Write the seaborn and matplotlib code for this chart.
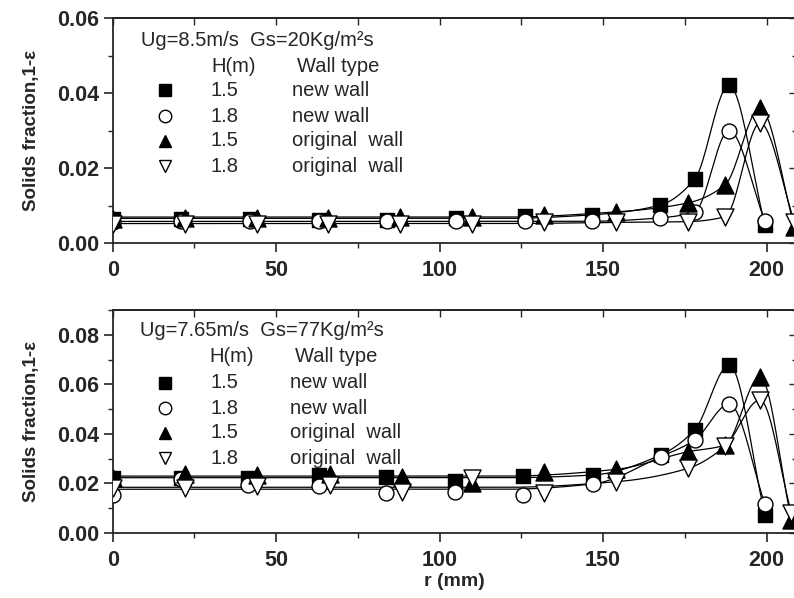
import numpy as np
import pandas as pd
import matplotlib
matplotlib.use("Agg")
import matplotlib.pyplot as plt
from matplotlib.ticker import MultipleLocator, FormatStrFormatter
import seaborn as sns

# ---------------- data ----------------
# top panel: Ug=8.5 m/s, Gs=20 kg/m2s
top_r_new = [0, 21, 42, 63, 84, 105, 126, 146.5, 167.4, 178, 188.5, 199.5]
top_sq = [0.0065, 0.0065, 0.0065, 0.0062, 0.0062, 0.0068, 0.0072, 0.0075, 0.0101, 0.0170, 0.0421, 0.0048]
top_ci = [0.0055, 0.0058, 0.0058, 0.0058, 0.0058, 0.0058, 0.0058, 0.0058, 0.0067, 0.0083, 0.0300, 0.0058]
top_r_orig = [0, 22, 44, 66, 88, 110, 132, 154, 176, 187.3, 198, 208.5]
top_tu = [0.0065, 0.0068, 0.0068, 0.0068, 0.0070, 0.0070, 0.0075, 0.0083, 0.0107, 0.0155, 0.0360, 0.0044]
top_td = [0.0052, 0.0052, 0.0050, 0.0050, 0.0052, 0.0052, 0.0055, 0.0055, 0.0057, 0.0070, 0.0320, 0.0057]

# bottom panel: Ug=7.65 m/s, Gs=77 kg/m2s
bot_r_new = [0, 21, 41.5, 63, 83.7, 104.7, 125.6, 146.8, 167.6, 178, 188.6, 199.5]
bot_sq = [0.0222, 0.0220, 0.0220, 0.0234, 0.0225, 0.0211, 0.0230, 0.0234, 0.0315, 0.0416, 0.0678, 0.0073]
bot_ci = [0.0155, 0.0217, 0.0194, 0.0190, 0.0160, 0.0167, 0.0153, 0.0198, 0.0308, 0.0375, 0.0520, 0.0117]
bot_r_orig = [0, 22, 44, 66.5, 88.4, 110, 132, 154, 176, 187.3, 198, 207.6]
bot_tu = [0.0220, 0.0238, 0.0234, 0.0240, 0.0225, 0.0203, 0.0247, 0.0257, 0.0328, 0.0355, 0.0631, 0.0052]
bot_td = [0.0180, 0.0180, 0.0190, 0.0194, 0.0167, 0.0220, 0.0160, 0.0207, 0.0261, 0.0350, 0.0537, 0.0080]

series_names = ["1.5 new wall", "1.8 new wall", "1.5 original wall", "1.8 original wall"]
H_labels = ["1.5", "1.8", "1.5", "1.8"]
wall_labels = ["new wall", "new wall", "original  wall", "original  wall"]
panel_titles = ["Ug=8.5m/s  Gs=20Kg/m\u00b2s", "Ug=7.65m/s  Gs=77Kg/m\u00b2s"]

# ---------------- styling ----------------
sns.set_theme(style="ticks")
plt.rcParams["font.family"] = ["Liberation Sans", "DejaVu Sans"]
plt.rcParams["axes.linewidth"] = 1.3

W, H = 794, 598
fig = plt.figure(figsize=(W / 100, H / 100), dpi=100)


def fx(px):
    return px / W


def fy(py):
    return 1 - py / H


def pchip(x, y, xn):
    x = np.asarray(x, float)
    y = np.asarray(y, float)
    h = np.diff(x)
    d = np.diff(y) / h
    m = np.zeros_like(y)
    for k in range(1, len(x) - 1):
        if d[k - 1] * d[k] > 0:
            w1 = 2 * h[k] + h[k - 1]
            w2 = h[k] + 2 * h[k - 1]
            m[k] = (w1 + w2) / (w1 / d[k - 1] + w2 / d[k])
    m[-1] = d[-1]
    out = np.empty_like(xn)
    idx = np.clip(np.searchsorted(x, xn) - 1, 0, len(x) - 2)
    for i, (xi, k) in enumerate(zip(xn, idx)):
        t = (xi - x[k]) / h[k]
        h00 = 2 * t**3 - 3 * t**2 + 1
        h10 = t**3 - 2 * t**2 + t
        h01 = -2 * t**3 + 3 * t**2
        h11 = t**3 - t**2
        out[i] = h00 * y[k] + h10 * h[k] * m[k] + h01 * y[k + 1] + h11 * h[k] * m[k + 1]
    return out


def smooth_curve(r, v):
    r = np.asarray(r, float)
    v = np.asarray(v, float)
    base = v[r < 140].mean()
    kx = [0, 120] + list(r[r >= 145])
    ky = [base, base] + list(v[r >= 145])
    xn = np.linspace(0, r[-1], 400)
    return xn, pchip(kx, ky, xn)


markers = {"1.5 new wall": "s", "1.8 new wall": "o",
           "1.5 original wall": "^", "1.8 original wall": "v"}
faces = {"1.5 new wall": "black", "1.8 new wall": "white",
         "1.5 original wall": "black", "1.8 original wall": "white"}
msize = {"1.5 new wall": 95, "1.8 new wall": 115,
         "1.5 original wall": 150, "1.8 original wall": 150}

panels = [
    dict(rect=[fx(112.7), fy(243), fx(796) - fx(112.7), fy(18) - fy(243)],
         data=[(top_r_new, top_sq), (top_r_new, top_ci), (top_r_orig, top_tu), (top_r_orig, top_td)],
         ylim=(0, 0.06), major=0.02, minor=0.01,
         legend_y=[40, 66, 90, 116, 141, 166], xs=(141, 211, 297, 165, 211, 292)),
    dict(rect=[fx(112.7), fy(533), fx(796) - fx(112.7), fy(310) - fy(533)],
         data=[(bot_r_new, bot_sq), (bot_r_new, bot_ci), (bot_r_orig, bot_tu), (bot_r_orig, bot_td)],
         ylim=(0, 0.09), major=0.02, minor=0.01,
         legend_y=[331, 357, 383, 408, 433, 458], xs=(140, 209, 295, 165, 211, 290)),
]

for pi, p in enumerate(panels):
    ax = fig.add_axes(p["rect"])
    pts, crv = [], []
    for name, (r, v) in zip(series_names, p["data"]):
        pts.append(pd.DataFrame({"r": r, "v": v, "series": name}))
        xn, yn = smooth_curve(r, v)
        crv.append(pd.DataFrame({"r": xn, "v": yn, "series": name}))
    pts = pd.concat(pts, ignore_index=True)
    crv = pd.concat(crv, ignore_index=True)

    sns.lineplot(data=crv, x="r", y="v", units="series", estimator=None,
                 color="black", lw=0.9, ax=ax, legend=False, zorder=2)
    for name in series_names:
        sub = pts[pts["series"] == name]
        sns.scatterplot(data=sub, x="r", y="v", marker=markers[name], s=msize[name],
                        color=faces[name], edgecolor="black", linewidth=1.0,
                        ax=ax, legend=False, zorder=3)

    ax.set_xlim(0, 209)
    ax.set_ylim(*p["ylim"])
    ax.xaxis.set_major_locator(MultipleLocator(50))
    ax.xaxis.set_minor_locator(MultipleLocator(25))
    ax.yaxis.set_major_locator(MultipleLocator(p["major"]))
    ax.yaxis.set_minor_locator(MultipleLocator(p["minor"]))
    ax.yaxis.set_major_formatter(FormatStrFormatter("%.2f"))
    ax.tick_params(which="major", direction="out", length=6.5, width=1.2,
                   labelsize=15.5)
    ax.tick_params(axis="x", which="major", pad=6)
    ax.tick_params(axis="y", which="major", pad=3)
    ax.tick_params(which="minor", direction="out", length=3.5, width=1.0)
    for lab in ax.get_xticklabels() + ax.get_yticklabels():
        lab.set_fontweight("bold")
    ax.spines["right"].set_visible(False)
    ax.set_xlabel("r (mm)" if pi == 1 else "", fontsize=14, fontweight="bold", labelpad=1)
    ax.set_ylabel("Solids fraction,1-\u03b5", fontsize=13.5, fontweight="bold")
    ax.yaxis.set_label_coords(-0.106, 0.5)

    sec = ax.secondary_xaxis("top")
    sec.xaxis.set_major_locator(MultipleLocator(50))
    sec.xaxis.set_minor_locator(MultipleLocator(25))
    sec.tick_params(which="both", direction="in", length=5, width=1.0, labeltop=False)
    secy = ax.secondary_yaxis("right")
    secy.yaxis.set_major_locator(MultipleLocator(p["major"]))
    secy.yaxis.set_minor_locator(MultipleLocator(p["minor"]))
    secy.tick_params(which="major", direction="in", length=5, width=1.0, labelright=False)
    secy.tick_params(which="minor", direction="in", length=3, width=1.0)

    ly = p["legend_y"]
    xt, xh, xw, xm, xv, xwl = p["xs"]
    fs = 14.5
    fig.text(fx(xt), fy(ly[0]), panel_titles[pi], fontsize=fs, va="center", ha="left")
    fig.text(fx(xh), fy(ly[1]), "H(m)", fontsize=fs, va="center", ha="left")
    fig.text(fx(xw), fy(ly[1]), "Wall type", fontsize=fs, va="center", ha="left")
    for k, name in enumerate(series_names):
        yy = fy(ly[k + 2])
        fig.lines.append(plt.Line2D([fx(xm)], [yy], transform=fig.transFigure,
                                    marker=markers[name], markersize=9,
                                    markerfacecolor=faces[name], markeredgecolor="black",
                                    markeredgewidth=1.0, linestyle="none"))
        fig.text(fx(xv), yy, H_labels[k], fontsize=fs, va="center", ha="left")
        fig.text(fx(xwl), yy, wall_labels[k], fontsize=fs, va="center", ha="left")

fig.savefig("out.png", dpi=100)
